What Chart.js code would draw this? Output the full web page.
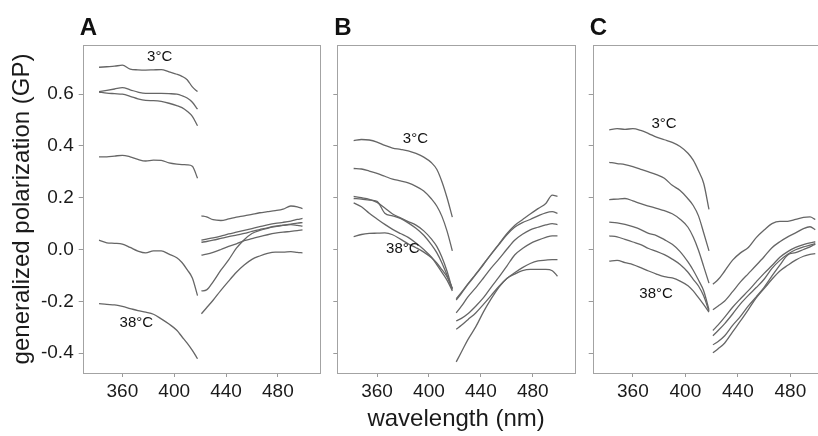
<!DOCTYPE html>
<html>
<head>
<meta charset="utf-8">
<title>Generalized polarization spectra</title>
<script src="https://cdn.jsdelivr.net/npm/chart.js@4.4.0/dist/chart.umd.min.js"></script>
<style>
  html, body { margin: 0; padding: 0; background: #fff; }
  #figure { position: relative; width: 818px; height: 436px; overflow: hidden; background: #fff; }
  .panel { position: absolute; top: 0; }
</style>
</head>
<body>
<div id="figure">
  <div class="panel" style="left:0px"><canvas id="panelA" width="330" height="436"></canvas></div>
  <div class="panel" style="left:300px"><canvas id="panelB" width="285" height="436"></canvas></div>
  <div class="panel" style="left:560px"><canvas id="panelC" width="280" height="436"></canvas></div>
</div>
<script>
// Axis ticks
const wavelengthTicks = [360, 400, 440, 480];
const gpTicks = [-0.4, -0.2, 0.0, 0.2, 0.4, 0.6];

// Wavelengths (nm) sampled for the two parts of every spectrum
const wlShort = [342, 348, 354, 360, 366, 372, 378, 384, 390, 396, 402, 406, 410, 414, 418];
const wlLong = [421, 425, 430, 436, 442, 448, 454, 460, 466, 472, 478, 484, 490, 495, 499];

// Temperature labels
const tempLabels = ['3°C', '38°C'];

// Panel A
const aShort1 = [0.704, 0.706, 0.708, 0.712, 0.697, 0.694, 0.693, 0.694, 0.695, 0.686, 0.677, 0.669, 0.656, 0.628, 0.610];
const aShort2 = [0.610, 0.615, 0.620, 0.625, 0.617, 0.608, 0.603, 0.603, 0.603, 0.602, 0.600, 0.594, 0.585, 0.569, 0.542];
const aShort3 = [0.608, 0.604, 0.602, 0.600, 0.592, 0.582, 0.576, 0.575, 0.572, 0.565, 0.556, 0.548, 0.534, 0.514, 0.478];
const aShort4 = [0.358, 0.358, 0.361, 0.364, 0.358, 0.348, 0.342, 0.345, 0.344, 0.335, 0.330, 0.328, 0.327, 0.322, 0.275];
const aShort5 = [0.036, 0.026, 0.024, 0.021, 0.008, -0.006, -0.013, -0.005, -0.005, -0.018, -0.032, -0.050, -0.078, -0.110, -0.178];
const aShort6 = [-0.209, -0.212, -0.214, -0.220, -0.228, -0.236, -0.242, -0.250, -0.268, -0.288, -0.312, -0.337, -0.362, -0.390, -0.422];
const aLong1 = [0.130, 0.126, 0.115, 0.112, 0.118, 0.125, 0.130, 0.136, 0.142, 0.146, 0.150, 0.156, 0.168, 0.165, 0.158];
const aLong2 = [0.036, 0.040, 0.045, 0.052, 0.060, 0.067, 0.074, 0.081, 0.088, 0.095, 0.101, 0.105, 0.110, 0.116, 0.120];
const aLong3 = [0.028, 0.031, 0.036, 0.043, 0.050, 0.056, 0.062, 0.070, 0.077, 0.084, 0.090, 0.094, 0.098, 0.102, 0.104];
const aLong4 = [-0.022, -0.018, -0.011, 0.000, 0.012, 0.022, 0.034, 0.042, 0.050, 0.057, 0.063, 0.067, 0.070, 0.073, 0.076];
const aLong5 = [-0.160, -0.156, -0.125, -0.080, -0.040, 0.005, 0.038, 0.062, 0.074, 0.082, 0.088, 0.093, 0.096, 0.093, 0.090];
const aLong6 = [-0.248, -0.225, -0.196, -0.158, -0.122, -0.088, -0.060, -0.038, -0.025, -0.015, -0.010, -0.010, -0.008, -0.011, -0.013];

// Panel B
const bShort1 = [0.421, 0.425, 0.423, 0.415, 0.402, 0.392, 0.387, 0.381, 0.371, 0.357, 0.335, 0.310, 0.262, 0.199, 0.125];
const bShort2 = [0.313, 0.311, 0.303, 0.294, 0.283, 0.272, 0.265, 0.257, 0.244, 0.226, 0.195, 0.168, 0.128, 0.070, -0.005];
const bShort3 = [0.205, 0.200, 0.194, 0.182, 0.160, 0.137, 0.122, 0.108, 0.094, 0.072, 0.040, 0.012, -0.030, -0.085, -0.155];
const bShort4 = [0.197, 0.195, 0.191, 0.186, 0.140, 0.130, 0.120, 0.103, 0.082, 0.055, 0.018, -0.012, -0.052, -0.100, -0.150];
const bShort5 = [0.180, 0.165, 0.140, 0.118, 0.097, 0.078, 0.062, 0.047, 0.025, 0.000, -0.030, -0.058, -0.088, -0.119, -0.160];
const bShort6 = [0.050, 0.058, 0.062, 0.063, 0.064, 0.057, 0.040, 0.022, 0.007, -0.010, -0.032, -0.052, -0.078, -0.106, -0.152];
const bLong1 = [-0.195, -0.169, -0.135, -0.097, -0.058, -0.017, 0.022, 0.061, 0.093, 0.115, 0.137, 0.158, 0.178, 0.210, 0.205];
const bLong2 = [-0.190, -0.166, -0.133, -0.095, -0.056, -0.018, 0.020, 0.057, 0.086, 0.104, 0.116, 0.130, 0.142, 0.146, 0.140];
const bLong3 = [-0.245, -0.219, -0.183, -0.148, -0.110, -0.071, -0.036, 0.001, 0.036, 0.059, 0.076, 0.086, 0.095, 0.100, 0.096];
const bLong4 = [-0.276, -0.266, -0.248, -0.219, -0.186, -0.145, -0.106, -0.064, -0.021, 0.004, 0.023, 0.036, 0.047, 0.053, 0.053];
const bLong5 = [-0.308, -0.293, -0.271, -0.245, -0.212, -0.177, -0.142, -0.112, -0.090, -0.070, -0.054, -0.044, -0.041, -0.039, -0.039];
const bLong6 = [-0.434, -0.396, -0.348, -0.299, -0.241, -0.190, -0.145, -0.112, -0.095, -0.082, -0.077, -0.077, -0.077, -0.082, -0.103];

// Panel C
const cShort1 = [0.462, 0.467, 0.464, 0.467, 0.460, 0.448, 0.434, 0.424, 0.414, 0.398, 0.372, 0.345, 0.304, 0.255, 0.155];
const cShort2 = [0.337, 0.332, 0.328, 0.320, 0.310, 0.300, 0.289, 0.275, 0.248, 0.228, 0.196, 0.170, 0.130, 0.064, -0.005];
const cShort3 = [0.193, 0.195, 0.197, 0.188, 0.177, 0.168, 0.159, 0.150, 0.138, 0.117, 0.086, 0.048, -0.003, -0.066, -0.130];
const cShort4 = [0.106, 0.103, 0.097, 0.088, 0.077, 0.062, 0.054, 0.038, 0.020, -0.008, -0.048, -0.080, -0.118, -0.160, -0.232];
const cShort5 = [0.053, 0.049, 0.039, 0.029, 0.019, 0.004, -0.007, -0.020, -0.037, -0.058, -0.088, -0.115, -0.141, -0.180, -0.238];
const cShort6 = [-0.045, -0.042, -0.051, -0.058, -0.070, -0.083, -0.095, -0.105, -0.110, -0.122, -0.140, -0.160, -0.186, -0.213, -0.242];
const cLong1 = [-0.134, -0.116, -0.083, -0.041, -0.013, 0.008, 0.046, 0.075, 0.100, 0.109, 0.109, 0.116, 0.124, 0.126, 0.116];
const cLong2 = [-0.233, -0.218, -0.199, -0.163, -0.125, -0.093, -0.061, -0.028, 0.007, 0.030, 0.049, 0.064, 0.081, 0.088, 0.077];
const cLong3 = [-0.313, -0.291, -0.261, -0.223, -0.190, -0.159, -0.125, -0.092, -0.062, -0.030, -0.008, 0.008, 0.019, 0.026, 0.030];
const cLong4 = [-0.333, -0.313, -0.286, -0.249, -0.210, -0.177, -0.147, -0.115, -0.073, -0.042, -0.018, -0.001, 0.010, 0.017, 0.023];
const cLong5 = [-0.368, -0.355, -0.333, -0.293, -0.258, -0.218, -0.183, -0.146, -0.102, -0.060, -0.021, -0.012, 0.000, 0.010, 0.021];
const cLong6 = [-0.399, -0.383, -0.361, -0.318, -0.276, -0.232, -0.187, -0.151, -0.115, -0.083, -0.061, -0.041, -0.026, -0.019, -0.016];

// Where the temperature labels sit, in data units [nm, GP]
const notesA = [[388.8, 0.745], [370.8, -0.282]];
const notesB = [[389.6, 0.429], [379.9, 0.004]];
const notesC = [[383.8, 0.487], [377.7, -0.170]];

const FONT = '"Liberation Sans", Arial, Helvetica, sans-serif';
Chart.defaults.font.family = FONT;
Chart.defaults.color = '#1a1a1a';

// Draws the box round the plot area, the panel letter and the temperature labels
const framePlugin = {
    id: 'frame',
    afterDraw(chart, args, opts) {
        const { ctx, chartArea: a, scales } = chart;
        ctx.save();
        ctx.strokeStyle = '#a3a3a3';
        ctx.lineWidth = 1;
        const l = Math.round(a.left) + 0.5, t = Math.round(a.top) + 0.5;
        ctx.strokeRect(l, t, Math.round(a.right) - Math.round(a.left), Math.round(a.bottom) - Math.round(a.top));

        ctx.fillStyle = '#111';
        ctx.font = 'bold 24px ' + FONT;
        ctx.textAlign = 'left';
        ctx.textBaseline = 'alphabetic';
        ctx.fillText(opts.letter, a.left - 3, 35);

        ctx.font = '15px ' + FONT;
        ctx.textAlign = 'center';
        ctx.textBaseline = 'middle';
        opts.notes.forEach(([x, y], i) => {
            ctx.fillText(tempLabels[i], scales.x.getPixelForValue(x), scales.y.getPixelForValue(y));
        });
        ctx.restore();
    }
};

function toPoints(xs, ys) {
    return xs.map((x, i) => ({ x: x, y: ys[i] }));
}

function makePanel(id, cfg) {
    const datasets = cfg.short.map(ys => toPoints(wlShort, ys))
        .concat(cfg.long.map(ys => toPoints(wlLong, ys)))
        .map(points => ({
            data: points,
            borderColor: '#666666',
            borderWidth: 1.3,
            pointRadius: 0,
            cubicInterpolationMode: 'monotone',
            fill: false
        }));

    return new Chart(document.getElementById(id), {
        type: 'line',
        data: { datasets: datasets },
        plugins: [framePlugin],
        options: {
            responsive: false,
            animation: false,
            devicePixelRatio: 1,
            layout: { padding: { left: 0, right: cfg.padRight, top: 45, bottom: 0 } },
            plugins: {
                legend: { display: false },
                tooltip: { enabled: false },
                frame: { letter: cfg.letter, notes: cfg.notes }
            },
            scales: {
                x: {
                    type: 'linear',
                    min: 329.4,
                    max: 512.5,
                    afterBuildTicks: s => { s.ticks = wavelengthTicks.map(v => ({ value: v })); },
                    afterFit: s => { s.height = 63; },
                    ticks: { font: { size: 19 }, padding: 3, maxRotation: 0, callback: v => String(v) },
                    grid: { drawOnChartArea: false, drawTicks: true, tickLength: 4, color: '#9a9a9a' },
                    border: { display: false },
                    title: {
                        display: cfg.xTitle,
                        text: 'wavelength (nm)',
                        font: { size: 24 },
                        padding: { top: 0, bottom: 2 }
                    }
                },
                y: {
                    type: 'linear',
                    min: -0.477,
                    max: 0.79,
                    afterBuildTicks: s => { s.ticks = gpTicks.map(v => ({ value: v })); },
                    afterFit: s => { s.width = cfg.yWidth; },
                    ticks: { display: cfg.yLabels, font: { size: 19 }, padding: 5, callback: v => v.toFixed(1) },
                    grid: { drawOnChartArea: false, drawTicks: true, tickLength: 4, color: '#9a9a9a' },
                    border: { display: false },
                    title: {
                        display: cfg.yLabels,
                        text: 'generalized polarization (GP)',
                        font: { size: 24 },
                        padding: { top: 8, bottom: 0 }
                    }
                }
            }
        }
    });
}

makePanel('panelA', {
    letter: 'A', notes: notesA, yWidth: 82.7, padRight: 10, yLabels: true, xTitle: false,
    short: [aShort1, aShort2, aShort3, aShort4, aShort5, aShort6],
    long: [aLong1, aLong2, aLong3, aLong4, aLong5, aLong6]
});

makePanel('panelB', {
    letter: 'B', notes: notesB, yWidth: 37.3, padRight: 10, yLabels: false, xTitle: true,
    short: [bShort1, bShort2, bShort3, bShort4, bShort5, bShort6],
    long: [bLong1, bLong2, bLong3, bLong4, bLong5, bLong6]
});

makePanel('panelC', {
    letter: 'C', notes: notesC, yWidth: 32.7, padRight: 7, yLabels: false, xTitle: false,
    short: [cShort1, cShort2, cShort3, cShort4, cShort5, cShort6],
    long: [cLong1, cLong2, cLong3, cLong4, cLong5, cLong6]
});
</script>
</body>
</html>
